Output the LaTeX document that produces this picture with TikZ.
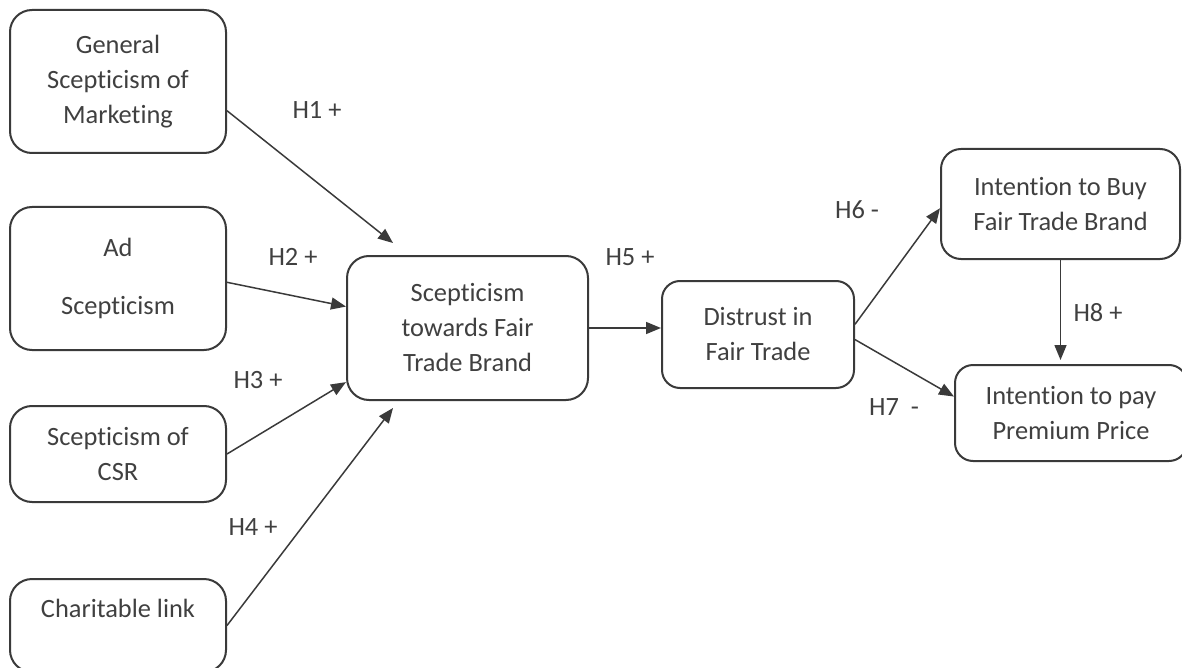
\documentclass[tikz,border=0pt]{standalone}
\usepackage{fontspec}
\setsansfont{Carlito}[Ligatures=NoCommon]
\usepackage{xcolor}
\usepackage{tikz}
\usetikzlibrary{arrows.meta,positioning,calc}
\definecolor{lineGray}{HTML}{3A3A3A}
\definecolor{textGray}{HTML}{404040}
\tikzset{
    model box/.style={
        draw=lineGray,
        line width=1pt,
        rounded corners=11pt,
        fill=white,
        minimum width=108pt,
        align=center,
        text=textGray,
        font=\sffamily\fontsize{13.2}{17.5}\selectfont,
        inner sep=3pt
    },
    model label/.style={font=\sffamily\fontsize{13.2}{17.5}\selectfont, text=textGray},
    model arrow/.style={-{Triangle[length=7.5pt,width=6pt]}, line width=0.75pt, draw=lineGray}
}

\begin{document}
\begin{tikzpicture}
\useasboundingbox (0,0) rectangle (591pt,-334pt);
% antecedents
\node[model box, minimum height=71.5pt] (gen) at (59pt,-40.75pt) {General\\Scepticism of\\Marketing};
\node[model box, minimum height=71.5pt, below=26pt of gen] (ad) {Ad\\[11.5pt]Scepticism};
\node[model box, minimum height=48pt, below=27pt of ad] (csr) {Scepticism of\\CSR};
\node[model box, minimum height=46.5pt, below=37.5pt of csr] (char) {Charitable link\\\mbox{}};

% mediators
\node[model box, minimum width=120.5pt, minimum height=72pt, right=59.5pt of ad, yshift=-24.75pt] (sftb) {Scepticism\\towards Fair\\Trade Brand};
\node[model box, minimum width=96pt, minimum height=53.5pt, rounded corners=9pt, right=36pt of sftb, yshift=-3.25pt] (dist) {Distrust in\\Fair Trade};

% outcomes
\node[model box, minimum width=119.5pt, minimum height=55pt, rounded corners=10pt, right=42.5pt of dist, yshift=65.25pt] (buy) {Intention to Buy\\Fair Trade Brand};
\node[model box, minimum width=116pt, minimum height=48pt, rounded corners=9pt, below=52pt of buy, xshift=5.25pt] (pay) {Intention to pay\\Premium Price};

\coordinate (t1) at ($(sftb.north west)+(23.5pt,6pt)$);
\coordinate (t4) at ($(sftb.south west)+(23.5pt,-3.5pt)$);

\draw[model arrow] (gen.-15) -- (t1);
\draw[model arrow] (ad.-2) -- (sftb.170);
\draw[model arrow] (csr.east) -- (sftb.204);
\draw[model arrow] (char.east) -- (t4);
\draw[model arrow] (sftb.east) -- (sftb.east -| dist.west);
\draw[model arrow] (dist.6) -- (buy.182);
\draw[model arrow] (dist.-3) -- (pay.172);
\draw[model arrow, shorten >=2pt] (buy.south) -- (buy.south |- pay.north);

% hypotheses
\node[model label] (h1) at (158.5pt,-55pt) {H1 +};
\node[model label] (h2) at (146.5pt,-128.5pt) {H2 +};
\node[model label] (h3) at (129pt,-190pt) {H3 +};
\node[model label] (h4) at (126.5pt,-263.5pt) {H4 +};
\node[model label] (h5) at (315pt,-128.5pt) {H5 +};
\node[model label] (h6) at (428.5pt,-105pt) {H6 -};
\node[model label] (h7) at (447pt,-203.5pt) {H7\ \ -};
\node[model label] (h8) at (549pt,-156.5pt) {H8 +};
\end{tikzpicture}
\end{document}
